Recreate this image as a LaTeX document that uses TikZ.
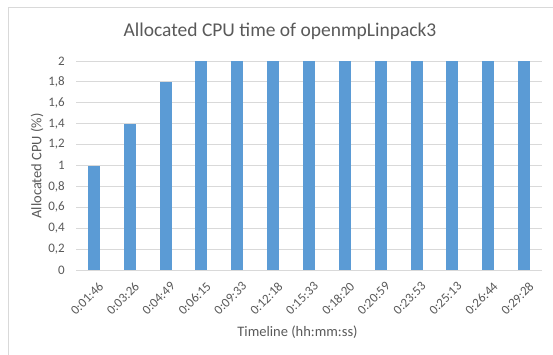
\documentclass[tikz,border=0pt]{standalone}
\usepackage{fontspec}
\setmainfont{Carlito}
\definecolor{barblue}{HTML}{5B9BD5}
\definecolor{gridgray}{HTML}{D9D9D9}
\definecolor{textgray}{HTML}{595959}
\begin{document}
\begin{tikzpicture}[x=1pt,y=-1pt,
    bar/.style={fill=barblue, draw=none},
    gridline/.style={draw=gridgray, line width=0.9pt},
    charttitle/.style={text=textgray, font=\fontsize{19.5}{22}\selectfont},
    axistitle/.style={text=textgray, font=\fontsize{14.5}{16}\selectfont},
    ticklabel/.style={text=textgray, font=\fontsize{13}{15}\selectfont, inner sep=0pt}]
 \useasboundingbox (0,0) rectangle (553,354);
 % chart frame
 \draw[gridgray, line width=0.9pt] (8,360) -- (8,7) -- (560,7);
 \node[charttitle] (title) at (280,31) {Allocated CPU time of openmpLinpack3};
 % value axis
 \foreach \v/\lab in {0/0, 0.2/{0,2}, 0.4/{0,4}, 0.6/{0,6}, 0.8/{0,8}, 1/1,
                      1.2/{1,2}, 1.4/{1,4}, 1.6/{1,6}, 1.8/{1,8}, 2/2} {
   \draw[gridline] (76,270-104.5*\v) -- (542,270-104.5*\v);
   \node[ticklabel, anchor=east] at (65,270-104.5*\v) {\lab};
 }
 \node[axistitle, rotate=90] (ytitle) at (37,166) {Allocated CPU (\%)};
 % bars
 \foreach \v/\lab [count=\i from 0] in {1/0:01:46, 1.4/0:03:26, 1.8/0:04:49,
     2/0:06:15, 2/0:09:33, 2/0:12:18, 2/0:15:33, 2/0:18:20, 2/0:20:59,
     2/0:23:53, 2/0:25:13, 2/0:26:44, 2/0:29:28} {
   \fill[bar] (87.9+35.85*\i,270) rectangle (99.9+35.85*\i,270-104.5*\v);
   \node[ticklabel, rotate=45, anchor=north east] at (98+35.85*\i,281) {\lab};
 }
 \draw[gridline] (76,270) -- (542,270);
 \node[axistitle] (xtitle) at (297.5,332) {Timeline (hh:mm:ss)};
\end{tikzpicture}
\end{document}
